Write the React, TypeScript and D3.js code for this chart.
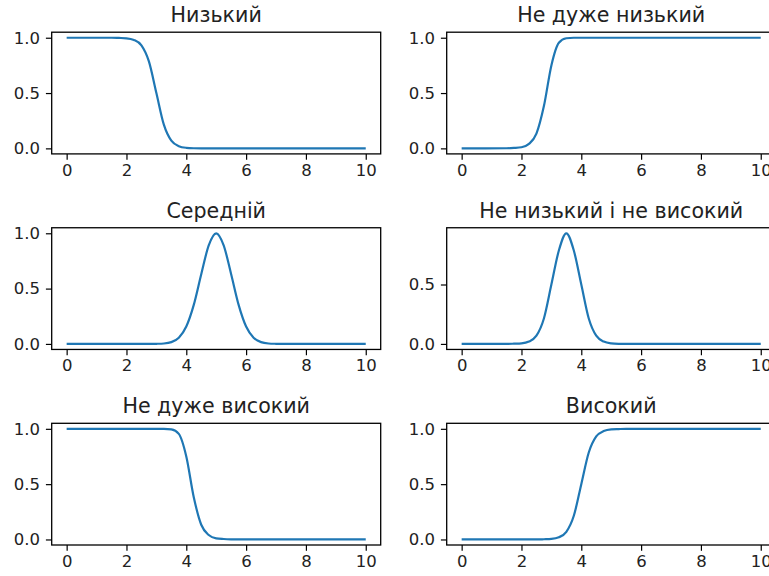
import { useEffect, useRef } from 'react'
import * as d3 from 'd3'

// subplot titles, row by row
const titles = ['Низький', 'Не дуже низький', 'Середній', 'Не низький і не високий', 'Не дуже високий', 'Високий']

// membership curves
const lowX = [0, 1.5, 1.75, 2, 2.25, 2.5, 2.75, 3, 3.25, 3.5, 3.75, 4, 4.25, 4.5, 10]
const lowY = [1, 1, 0.998, 0.995, 0.98, 0.931, 0.786, 0.5, 0.214, 0.069, 0.02, 0.005, 0.001, 0, 0]

const notVeryLowX = [0, 1.5, 1.75, 2, 2.25, 2.5, 2.75, 3, 3.25, 3.5, 3.75, 4, 10]
const notVeryLowY = [0, 0.001, 0.004, 0.01, 0.04, 0.133, 0.382, 0.75, 0.954, 0.995, 1, 1, 1]

const mediumX = [0, 2.75, 3, 3.25, 3.5, 3.75, 4, 4.25, 4.5, 4.75, 5, 5.25, 5.5, 5.75, 6, 6.25, 6.5, 6.75, 7, 7.25, 10]
const mediumY = [0, 0, 0.001, 0.004, 0.016, 0.056, 0.157, 0.353, 0.63, 0.891, 1, 0.891, 0.63, 0.353, 0.157, 0.056, 0.016, 0.004, 0.001, 0, 0]

const notLowNotHighX = [0, 1.5, 1.75, 2, 2.25, 2.5, 2.75, 3, 3.25, 3.5, 3.75, 4, 4.25, 4.5, 4.75, 5, 5.25, 5.5, 10]
const notLowNotHighY = [0, 0, 0.002, 0.005, 0.02, 0.069, 0.214, 0.5, 0.786, 0.931, 0.786, 0.5, 0.214, 0.069, 0.02, 0.005, 0.001, 0, 0]

const notVeryHighX = [0, 3, 3.25, 3.5, 3.75, 4, 4.25, 4.5, 4.75, 5, 5.25, 5.5, 5.75, 10]
const notVeryHighY = [1, 1, 1, 0.995, 0.954, 0.75, 0.382, 0.133, 0.04, 0.01, 0.004, 0.001, 0, 0]

const highX = [0, 2.5, 2.75, 3, 3.25, 3.5, 3.75, 4, 4.25, 4.5, 4.75, 5, 5.25, 5.5, 10]
const highY = [0, 0, 0.002, 0.005, 0.02, 0.069, 0.214, 0.5, 0.786, 0.931, 0.98, 0.995, 0.998, 1, 1]

const xTicks = [0, 2, 4, 6, 8, 10]
const yTicks = [0, 0.5, 1]

const series = [
  [lowX, lowY],
  [notVeryLowX, notVeryLowY],
  [mediumX, mediumY],
  [notLowNotHighX, notLowNotHighY],
  [notVeryHighX, notVeryHighY],
  [highX, highY],
]

export default function App() {
  const ref = useRef<HTMLDivElement>(null)

  useEffect(() => {
    if (!ref.current) return
    const container = ref.current
    container.innerHTML = ''

    const width = 769
    const height = 576
    const font = 'DejaVu Sans, sans-serif'
    const colLeft = [51.7, 446.7]
    const axW = 329
    const axH = 121.7
    const rowTop = (r: number) => 32.2 + r * 195.55

    const svg = d3.select(container)
      .append('svg')
      .attr('width', width)
      .attr('height', height)
      .style('position', 'absolute')
      .style('left', 0)
      .style('top', 0)
      .style('background', '#fff')

    series.forEach(([xs, ys], i) => {
      const left = colLeft[i % 2]
      const top = rowTop(Math.floor(i / 2))
      const g = svg.append('g').attr('transform', `translate(${left},${top})`)

      // matplotlib-style 5% autoscale margins
      const [x0, x1] = d3.extent(xs) as [number, number]
      const [y0, y1] = d3.extent(ys) as [number, number]
      const px = (x1 - x0) * 0.05
      const py = (y1 - y0) * 0.05
      const x = d3.scaleLinear().domain([x0 - px, x1 + px]).range([0, axW])
      const y = d3.scaleLinear().domain([y0 - py, y1 + py]).range([axH, 0])

      const clipId = `clip-${i}`
      g.append('clipPath').attr('id', clipId)
        .append('rect').attr('width', axW).attr('height', axH)

      const line = d3.line<number>()
        .x((_, k) => x(xs[k]))
        .y(d => y(d))
        .curve(d3.curveMonotoneX)

      g.append('path')
        .datum(ys)
        .attr('d', line)
        .attr('clip-path', `url(#${clipId})`)
        .attr('fill', 'none')
        .attr('stroke', '#1f77b4')
        .attr('stroke-width', 2.2)
        .attr('stroke-linejoin', 'round')

      const xAxis = g.append('g').attr('transform', `translate(0,${axH})`)
        .call(d3.axisBottom(x).tickValues(xTicks).tickSize(5.8).tickPadding(4.5).tickFormat(d3.format('d')))
      const yAxis = g.append('g')
        .call(d3.axisLeft(y).tickValues(yTicks.filter(t => t >= y.domain()[0] && t <= y.domain()[1]))
          .tickSize(5.8).tickPadding(5.8).tickFormat(d3.format('.1f')))
      ;[xAxis, yAxis].forEach(a => {
        a.select('.domain').remove()
        a.selectAll('line').attr('stroke', '#000').attr('stroke-width', 1.2)
        a.selectAll('text').style('font-family', font).style('font-size', '16.5px').attr('fill', '#222')
      })

      g.append('rect')
        .attr('width', axW).attr('height', axH)
        .attr('fill', 'none').attr('stroke', '#000').attr('stroke-width', 1.3)

      g.append('text')
        .attr('x', axW / 2).attr('y', -10)
        .attr('text-anchor', 'middle')
        .style('font-family', font).style('font-size', '20.6px').attr('fill', '#222')
        .text(titles[i])
    })

    return () => { container.innerHTML = '' }
  }, [])

  return <div ref={ref} />
}
